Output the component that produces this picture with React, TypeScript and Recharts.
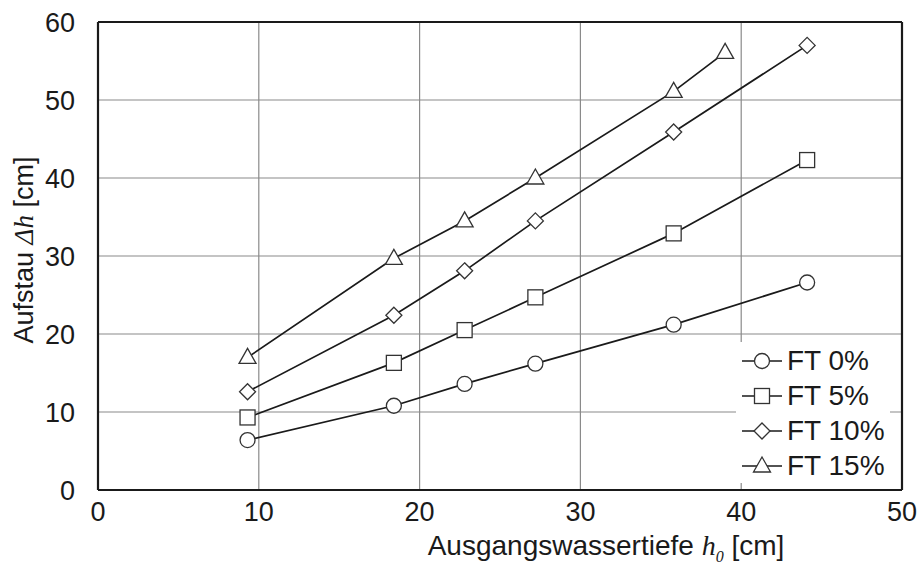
import { CartesianGrid, Line, LineChart, ReferenceLine, XAxis, YAxis } from "recharts";

const depth = [9.3, 18.4, 22.8, 27.2, 35.8, 44.1];
const depth15 = [9.3, 18.4, 22.8, 27.2, 35.8, 39.0];
const ft0 = [6.4, 10.8, 13.6, 16.2, 21.2, 26.6];
const ft5 = [9.3, 16.3, 20.5, 24.7, 32.9, 42.3];
const ft10 = [12.6, 22.4, 28.1, 34.5, 45.9, 57.0];
const ft15 = [17.0, 29.7, 34.5, 40.0, 51.1, 56.1];
const names = ["FT 0%", "FT 5%", "FT 10%", "FT 15%"];
const shapes = ["circle", "square", "diamond", "triangle"];
const xTicks = [0, 10, 20, 30, 40, 50];
const yTicks = [0, 10, 20, 30, 40, 50, 60];

const FONT = "'Liberation Sans', Arial, sans-serif";
const SERIF = "'Liberation Serif', serif";
const INK = "#1a1a1a";

const toPts = (xs: number[], ys: number[]) => xs.map((x, i) => ({ x, y: ys[i] }));
const series = [toPts(depth, ft0), toPts(depth, ft5), toPts(depth, ft10), toPts(depth15, ft15)];

function Marker({ cx, cy, shape }: { cx: number; cy: number; shape: string }) {
  const st = { fill: "#fff", stroke: "#333", strokeWidth: 1.3 };
  if (shape === "circle") return <circle cx={cx} cy={cy} r={7.5} {...st} />;
  if (shape === "square") return <rect x={cx - 7.5} y={cy - 7.5} width={15} height={15} {...st} />;
  if (shape === "diamond")
    return <polygon points={`${cx},${cy - 8} ${cx + 8},${cy} ${cx},${cy + 8} ${cx - 8},${cy}`} {...st} />;
  return <polygon points={`${cx},${cy - 9} ${cx + 8.5},${cy + 6} ${cx - 8.5},${cy + 6}`} {...st} />;
}

function dot(shape: string) {
  return (p: any) => <Marker key={p.index} cx={p.cx} cy={p.cy} shape={shape} />;
}

function LegendBox() {
  return (
    <div
      style={{
        position: "absolute",
        left: 736,
        top: 342,
        width: 154,
        height: 141,
        background: "#fff",
        boxSizing: "border-box",
        paddingTop: 1,
      }}
    >
      {names.map((n, i) => (
        <div key={n} style={{ display: "flex", alignItems: "center", height: 35 }}>
          <svg width={48} height={24} style={{ flex: "none" }}>
            <line x1={6} x2={46} y1={12} y2={12} stroke={INK} strokeWidth={1.6} />
            <Marker cx={26} cy={12} shape={shapes[i]} />
          </svg>
          <span style={{ fontFamily: FONT, fontSize: 28, lineHeight: "35px", color: INK, marginLeft: 3, whiteSpace: "nowrap" }}>
            {n}
          </span>
        </div>
      ))}
    </div>
  );
}

// the axis title sits right of the plot centre in the original
function XLabel({ viewBox }: any) {
  const cx = viewBox.x + viewBox.width / 2 + 106;
  return (
    <text x={cx} y={555} textAnchor="middle" fontFamily={FONT} fontSize={28} fill={INK}>
      Ausgangswassertiefe{" "}
      <tspan fontFamily={SERIF} fontStyle="italic">h</tspan>
      <tspan fontFamily={SERIF} fontStyle="italic" fontSize={16} dy={7}>0</tspan>
      <tspan dy={-7}> [cm]</tspan>
    </text>
  );
}

function YLabel({ viewBox }: any) {
  const cy = viewBox.y + viewBox.height / 2 - 6;
  return (
    <text x={33} y={cy} transform={`rotate(-90 33 ${cy})`} textAnchor="middle" fontFamily={FONT} fontSize={27} fill={INK}>
      Aufstau <tspan fontFamily={SERIF} fontStyle="italic">Δh</tspan> [cm]
    </text>
  );
}

export default function App() {
  return (
    <div style={{ position: "absolute", left: 0, top: 0, width: 917, height: 567, background: "#fff" }}>
      <LineChart width={917} height={567} margin={{ top: 22, right: 15, bottom: 0, left: 0 }}>
        <CartesianGrid stroke="#8a8a8a" strokeWidth={1.2} />
        <XAxis
          type="number"
          dataKey="x"
          domain={[0, 50]}
          ticks={xTicks}
          height={77}
          tickLine={false}
          axisLine={false}
          tickMargin={6}
          tick={{ fontSize: 27, fill: INK, fontFamily: FONT }}
          label={<XLabel />}
        />
        <YAxis
          type="number"
          domain={[0, 60]}
          ticks={yTicks}
          width={98}
          tickLine={false}
          axisLine={false}
          tickMargin={17}
          tick={{ fontSize: 27, fill: INK, fontFamily: FONT }}
          label={<YLabel />}
        />
        <ReferenceLine x={0} stroke={INK} strokeWidth={2.2} />
        <ReferenceLine x={50} stroke={INK} strokeWidth={2.2} />
        <ReferenceLine y={0} stroke={INK} strokeWidth={2.2} />
        <ReferenceLine y={60} stroke={INK} strokeWidth={2.2} />
        {series.map((s, i) => (
          <Line
            key={names[i]}
            data={s}
            dataKey="y"
            name={names[i]}
            stroke={INK}
            strokeWidth={1.7}
            dot={dot(shapes[i])}
            activeDot={false}
            isAnimationActive={false}
          />
        ))}
      </LineChart>
      <LegendBox />
    </div>
  );
}
